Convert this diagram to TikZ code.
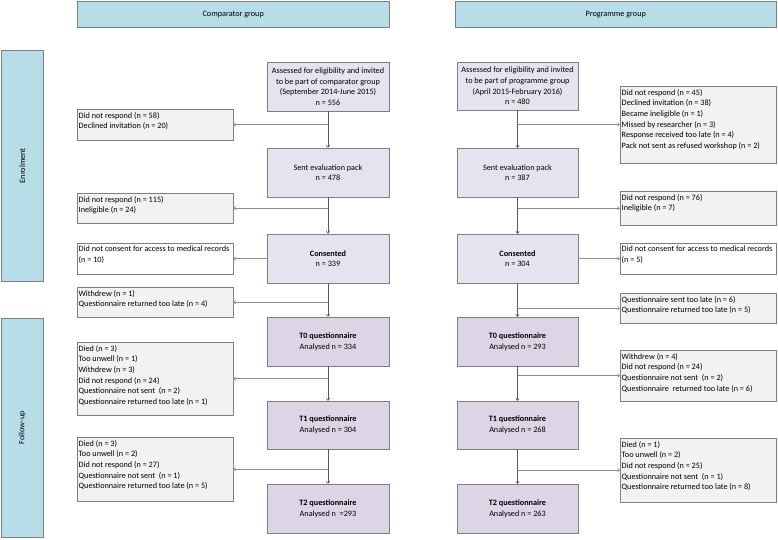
\documentclass[tikz,border=0pt]{standalone}
\usepackage{fontspec}
\setmainfont{Carlito}
\usetikzlibrary{arrows.meta}
\definecolor{hdrblue}{HTML}{B7DDE8}
\definecolor{lavA}{HTML}{E7E3EE}
\definecolor{lavB}{HTML}{DBD5E6}
\definecolor{sidegray}{HTML}{F2F2F2}
\definecolor{bordergray}{HTML}{7F7F7F}
\definecolor{vline}{HTML}{595959}
\definecolor{hline}{HTML}{8C8C8C}
\newcommand{\sidetxt}[2]{\parbox[c][#1pt][t]{156pt}{\leftskip=1.5pt\vspace*{3pt}#2}}
\begin{document}
\begin{tikzpicture}[x=1pt,y=-1pt,
  every node/.style={font=\fontsize{8.2}{10.6}\selectfont},
  hdr/.style={draw=bordergray, fill=hdrblue, anchor=north west, inner sep=0pt},
  mainbox/.style={draw=bordergray, fill=lavA, minimum width=122, minimum height=49, align=center, inner sep=1pt},
  tbox/.style={mainbox, fill=lavB},
  side/.style={draw=bordergray, fill=sidegray, anchor=north west, inner sep=0pt},
  sidew/.style={side, fill=white},
  varr/.style={draw=vline, line width=0.6pt, -{Straight Barb[length=2pt,width=3.5pt]}},
  harr/.style={draw=hline, line width=0.6pt, -{Straight Barb[length=2pt,width=3.5pt]}}
]
\useasboundingbox (0,0) rectangle (778,539);
% headers
\node[hdr, minimum width=312, minimum height=26] (hc) at (77,1) {Comparator group};
\node[hdr, minimum width=321, minimum height=26] (hp) at (455,1) {Programme group};
\node[hdr, minimum width=42, minimum height=231] (en) at (1,50) {};
\node[rotate=90] (ent) at (en.center) {Enrolment};
\node[hdr, minimum width=42, minimum height=219] (fu) at (1,318) {};
\node[rotate=90] (fut) at (fu.center) {Follow-up};
% comparator main column
\node[mainbox] (ca) at (328,86.5) {Assessed for eligibility and invited\\to be part of comparator group\\(September 2014-June 2015)\\n = 556};
\node[mainbox] (cs) at (328,172.5) {Sent evaluation pack\\n = 478};
\node[mainbox] (cc) at (328,258.5) {\textbf{Consented}\\n = 339};
\node[tbox] (c0) at (328,341.5) {\textbf{T0 questionnaire}\\Analysed n = 334};
\node[tbox, minimum height=48] (c1) at (328,425) {\textbf{T1 questionnaire}\\Analysed n = 304};
\node[tbox] (c2) at (328,508.5) {\textbf{T2 questionnaire}\\Analysed n \ =293};
% programme main column
\node[mainbox, minimum width=121, minimum height=48] (pa) at (517.5,86) {Assessed for eligibility and invited\\to be part of programme group\\(April 2015-February 2016)\\n = 480};
\node[mainbox, minimum width=121] (ps) at (517.5,172.5) {Sent evaluation pack\\n = 387};
\node[mainbox, minimum width=121] (pc) at (517.5,258.5) {\textbf{Consented}\\n = 304};
\node[tbox, minimum width=121] (p0) at (517.5,341.5) {\textbf{T0 questionnaire}\\Analysed n = 293};
\node[tbox, minimum width=121, minimum height=48] (p1) at (517.5,425) {\textbf{T1 questionnaire}\\Analysed n = 268};
\node[tbox, minimum width=121] (p2) at (517.5,508.5) {\textbf{T2 questionnaire}\\Analysed n = 263};
% comparator side boxes
\node[side] (l1) at (77,109) {\sidetxt{31}{Did not respond (n = 58)\\Declined invitation (n = 20)}};
\node[side] (l2) at (77,193) {\sidetxt{30}{Did not respond (n = 115)\\Ineligible (n = 24)}};
\node[sidew] (l3) at (77,243) {\sidetxt{31}{Did not consent for access to medical records\\(n = 10)}};
\node[side] (l4) at (77,287) {\sidetxt{30}{Withdrew (n = 1)\\Questionnaire returned too late (n = 4)}};
\node[side] (l5) at (77,342) {\sidetxt{73}{Died (n = 3)\\Too unwell (n = 1)\\Withdrew (n = 3)\\Did not respond (n = 24)\\Questionnaire not sent \ (n = 2)\\Questionnaire returned too late (n = 1)}};
\node[side] (l6) at (77,437) {\sidetxt{64}{Died (n = 3)\\Too unwell (n = 2)\\Did not respond (n = 27)\\Questionnaire not sent \ (n = 1)\\Questionnaire returned too late (n = 5)}};
% programme side boxes
\node[side] (r1) at (620,86) {\sidetxt{77}{Did not respond (n = 45)\\Declined invitation (n = 38)\\Became ineligible (n = 1)\\Missed by researcher (n = 3)\\Response received too late (n = 4)\\Pack not sent as refused workshop (n = 2)}};
\node[side] (r2) at (620,191) {\sidetxt{34}{Did not respond (n = 76)\\Ineligible (n = 7)}};
\node[sidew] (r3) at (620,243) {\sidetxt{31}{Did not consent for access to medical records\\(n = 5)}};
\node[side] (r4) at (620,293) {\sidetxt{30}{Questionnaire sent too late (n = 6)\\Questionnaire returned too late (n = 5)}};
\node[side] (r5) at (620,350) {\sidetxt{51}{Withdrew (n = 4)\\Did not respond (n = 24)\\Questionnaire not sent \ (n = 2)\\Questionnaire \ returned too late (n = 6)}};
\node[side] (r6) at (620,438) {\sidetxt{64}{Died (n = 1)\\Too unwell (n = 2)\\Did not respond (n = 25)\\Questionnaire not sent \ (n = 1)\\Questionnaire returned too late (n = 8)}};
% vertical flow
\foreach \a/\b in {ca/cs, cs/cc, cc/c0, c0/c1, c1/c2, pa/ps, ps/pc, pc/p0, p0/p1, p1/p2}
  \draw[varr] (\a.south) -- (\b.north);
% branches
\draw[harr] (ca.south |- l1.east) -- (l1.east);
\draw[harr] (cs.south |- l2.east) -- (l2.east);
\draw[harr] (cc.west |- l3.east) -- (l3.east);
\draw[harr] (cc.south |- l4.east) -- (l4.east);
\draw[harr] (c0.south |- l5.east) -- (l5.east);
\draw[harr] (c1.south |- l6.east) -- (l6.east);
\draw[harr] (pa.south |- r1.west) -- (r1.west);
\draw[harr] (ps.south |- r2.west) -- (r2.west);
\draw[harr] (pc.east |- r3.west) -- (r3.west);
\draw[harr] (pc.south |- r4.west) -- (r4.west);
\draw[harr] (p0.south |- r5.west) -- (r5.west);
\draw[harr] (p1.south |- r6.west) -- (r6.west);
\end{tikzpicture}
\end{document}
